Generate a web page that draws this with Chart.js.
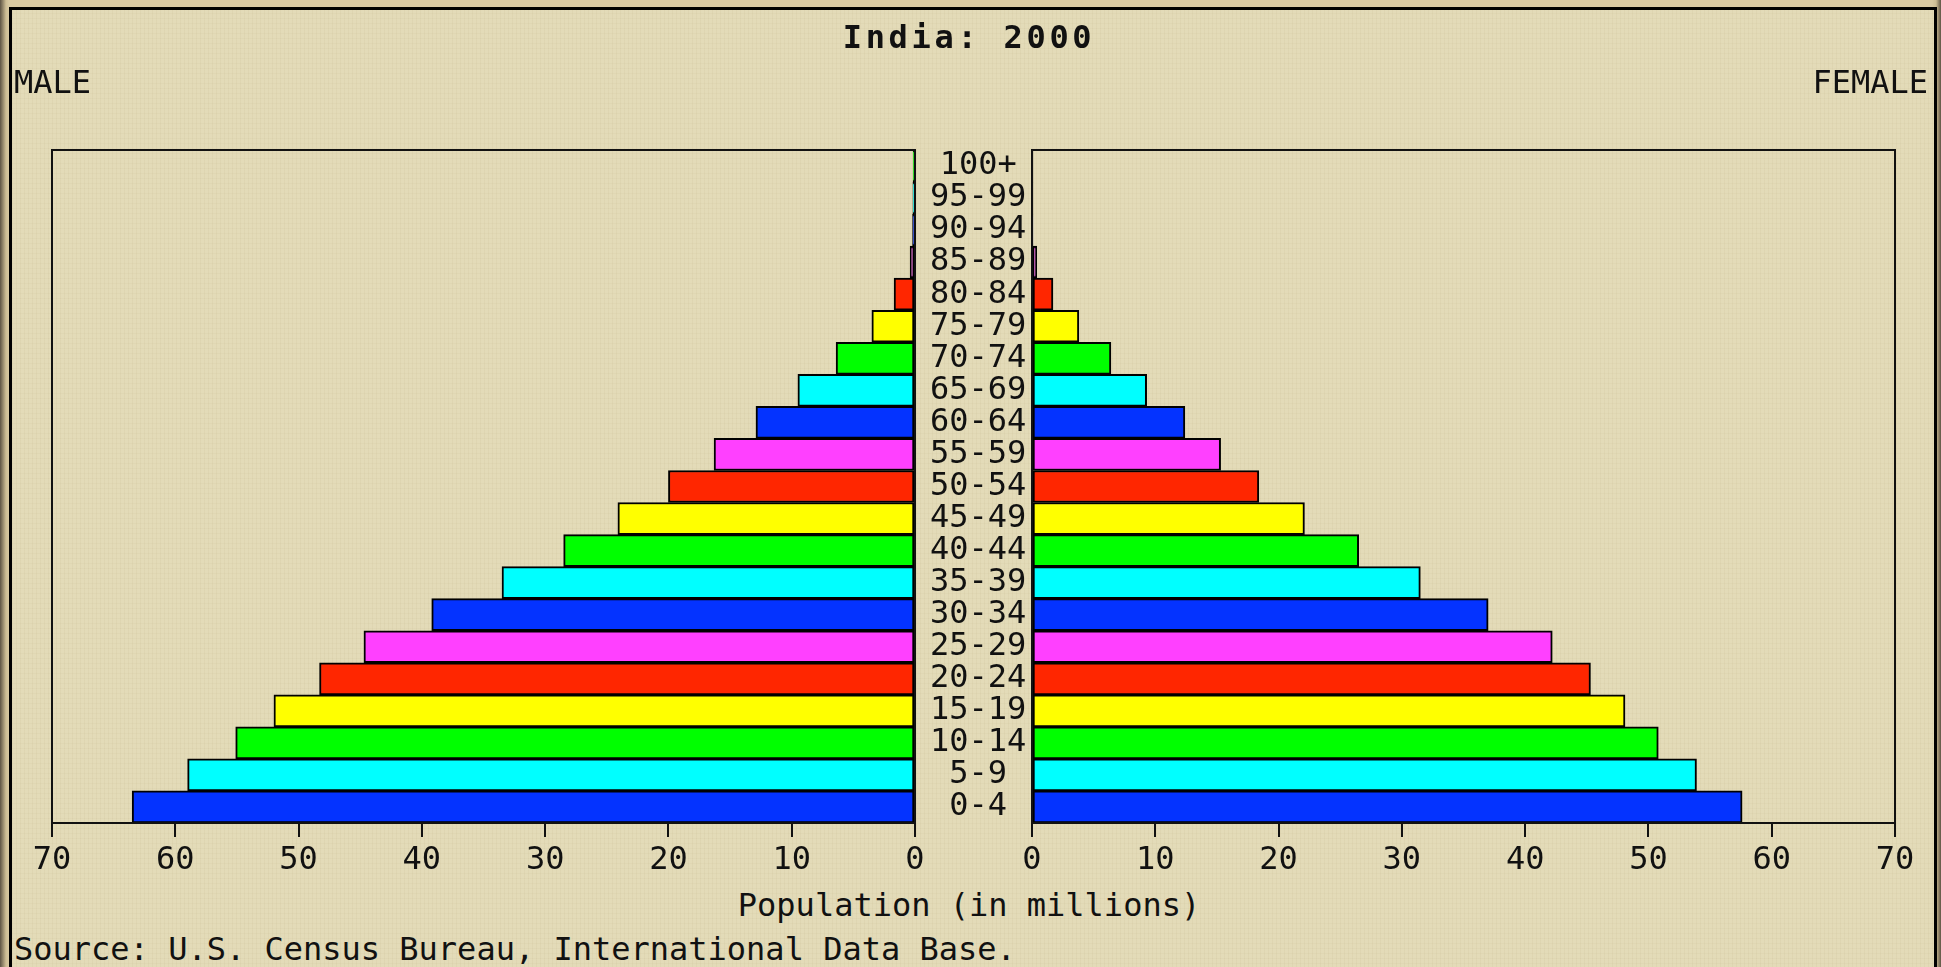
<!DOCTYPE html>
<html>
<head>
<meta charset="utf-8">
<title>India: 2000</title>
<script src="https://cdn.jsdelivr.net/npm/chart.js@4.4.1/dist/chart.umd.min.js"></script>
<style>
  html, body { margin: 0; padding: 0; }
  body {
    width: 1941px; height: 967px; overflow: hidden; position: relative;
    background: linear-gradient(90deg, #5e5444 0, #cdbd94 6px, #d8c9a2 9px, #d8c9a2 1932px, #cdbd94 1936px, #5e5444 1941px);
    font-family: "DejaVu Sans Mono", "Liberation Mono", monospace;
    color: #111;
  }
  #frame {
    position: absolute; left: 9px; top: 7px; width: 1928px; height: 1000px;
    box-sizing: border-box; border: 3px solid #000;
    background-color: #e3dbb8;
    background-image:
      repeating-linear-gradient(90deg, rgba(140,115,60,.05) 0 1px, transparent 1px 4px),
      repeating-linear-gradient(0deg, rgba(140,115,60,.04) 0 1px, transparent 1px 5px);
  }
  .txt { position: absolute; font-size: 32px; line-height: 32px; white-space: nowrap; }
  #title { left: 669px; width: 600px; top: 21px; text-align: center; font-weight: bold; letter-spacing: 3.7px; }
  #male { left: 14px; top: 66px; }
  #female { right: 13px; top: 66px; }
  #xlabel { left: 669px; width: 600px; top: 889px; text-align: center; }
  #source { left: 14px; top: 933px; }
  canvas { position: absolute; top: 0; }
  #maleChart { left: 0; }
  #femaleChart { left: 1012px; }
</style>
</head>
<body>
<div id="frame"></div>
<canvas id="maleChart" width="1032" height="880"></canvas>
<canvas id="femaleChart" width="929" height="880"></canvas>
<div class="txt" id="title">India: 2000</div>
<div class="txt" id="male">MALE</div>
<div class="txt" id="female">FEMALE</div>
<div class="txt" id="xlabel">Population (in millions)</div>
<div class="txt" id="source">Source: U.S. Census Bureau, International Data Base.</div>
<script>
// age groups, youngest first (millions)
const AGE_GROUPS = ['0-4', '5-9', '10-14', '15-19', '20-24', '25-29', '30-34', '35-39', '40-44', '45-49',
  '50-54', '55-59', '60-64', '65-69', '70-74', '75-79', '80-84', '85-89', '90-94', '95-99', '100+'];
const MALE   = [63.5, 59.0, 55.1, 52.0, 48.3, 44.7, 39.2, 33.5, 28.5, 24.1,
  20.0, 16.3, 12.9, 9.5, 6.4, 3.5, 1.7, 0.4, 0.2, 0.17, 0.15];
const FEMALE = [57.6, 53.9, 50.8, 48.1, 45.3, 42.2, 37.0, 31.5, 26.5, 22.1,
  18.4, 15.3, 12.4, 9.3, 6.4, 3.8, 1.7, 0.38, 0.05, 0.02, 0.01];
const X_MIN = 0, X_MAX = 70, X_STEP = 10;

const PALETTE = ['#0433ff', '#00ffff', '#00ff00', '#ffff00', '#ff2600', '#ff40ff'];
const FONT = { family: '"DejaVu Sans Mono", "Liberation Mono", monospace', size: 32 };

// top row first on the chart
const labels = AGE_GROUPS.slice().reverse();
const colors = AGE_GROUPS.map((_, i) => PALETTE[i % PALETTE.length]).reverse();

const boxPlugin = {
  id: 'box',
  afterDatasetsDraw(chart) {
    const { ctx, chartArea: a } = chart;
    ctx.save();
    ctx.strokeStyle = '#111';
    ctx.lineWidth = 2;
    ctx.strokeRect(a.left, a.top, a.right - a.left, a.bottom - a.top);
    ctx.restore();
  }
};

function pyramidSide(canvasId, values, isMale) {
  return new Chart(document.getElementById(canvasId), {
    type: 'bar',
    data: {
      labels,
      datasets: [{
        data: values.slice().reverse(),
        backgroundColor: colors,
        borderColor: '#000',
        borderWidth: 2,
        borderSkipped: false,
        categoryPercentage: 1,
        barPercentage: 1,
      }]
    },
    options: {
      indexAxis: 'y',
      responsive: false,
      animation: false,
      layout: { padding: isMale ? { left: 52, top: 150, right: 0, bottom: 0 } : { left: 20, top: 150, right: 46, bottom: 0 } },
      plugins: { legend: { display: false }, tooltip: { enabled: false }, title: { display: false } },
      scales: {
        x: {
          reverse: isMale,
          min: X_MIN, max: X_MAX,
          afterFit: s => { s.height = 57; },
          grid: { drawOnChartArea: false, drawTicks: true, tickLength: 14, color: '#111', lineWidth: 2 },
          border: { display: true, color: '#111', width: 2 },
          ticks: { stepSize: X_STEP, color: '#111', font: FONT, padding: 4, maxRotation: 0 }
        },
        y: {
          display: isMale,
          position: 'right',
          afterFit: s => { s.width = isMale ? 117 : 0; },
          grid: { display: false },
          border: { display: false },
          ticks: { color: '#111', font: FONT, crossAlign: 'center', padding: 7, autoSkip: false }
        }
      }
    },
    plugins: [boxPlugin]
  });
}

pyramidSide('maleChart', MALE, true);
pyramidSide('femaleChart', FEMALE, false);
</script>
</body>
</html>
